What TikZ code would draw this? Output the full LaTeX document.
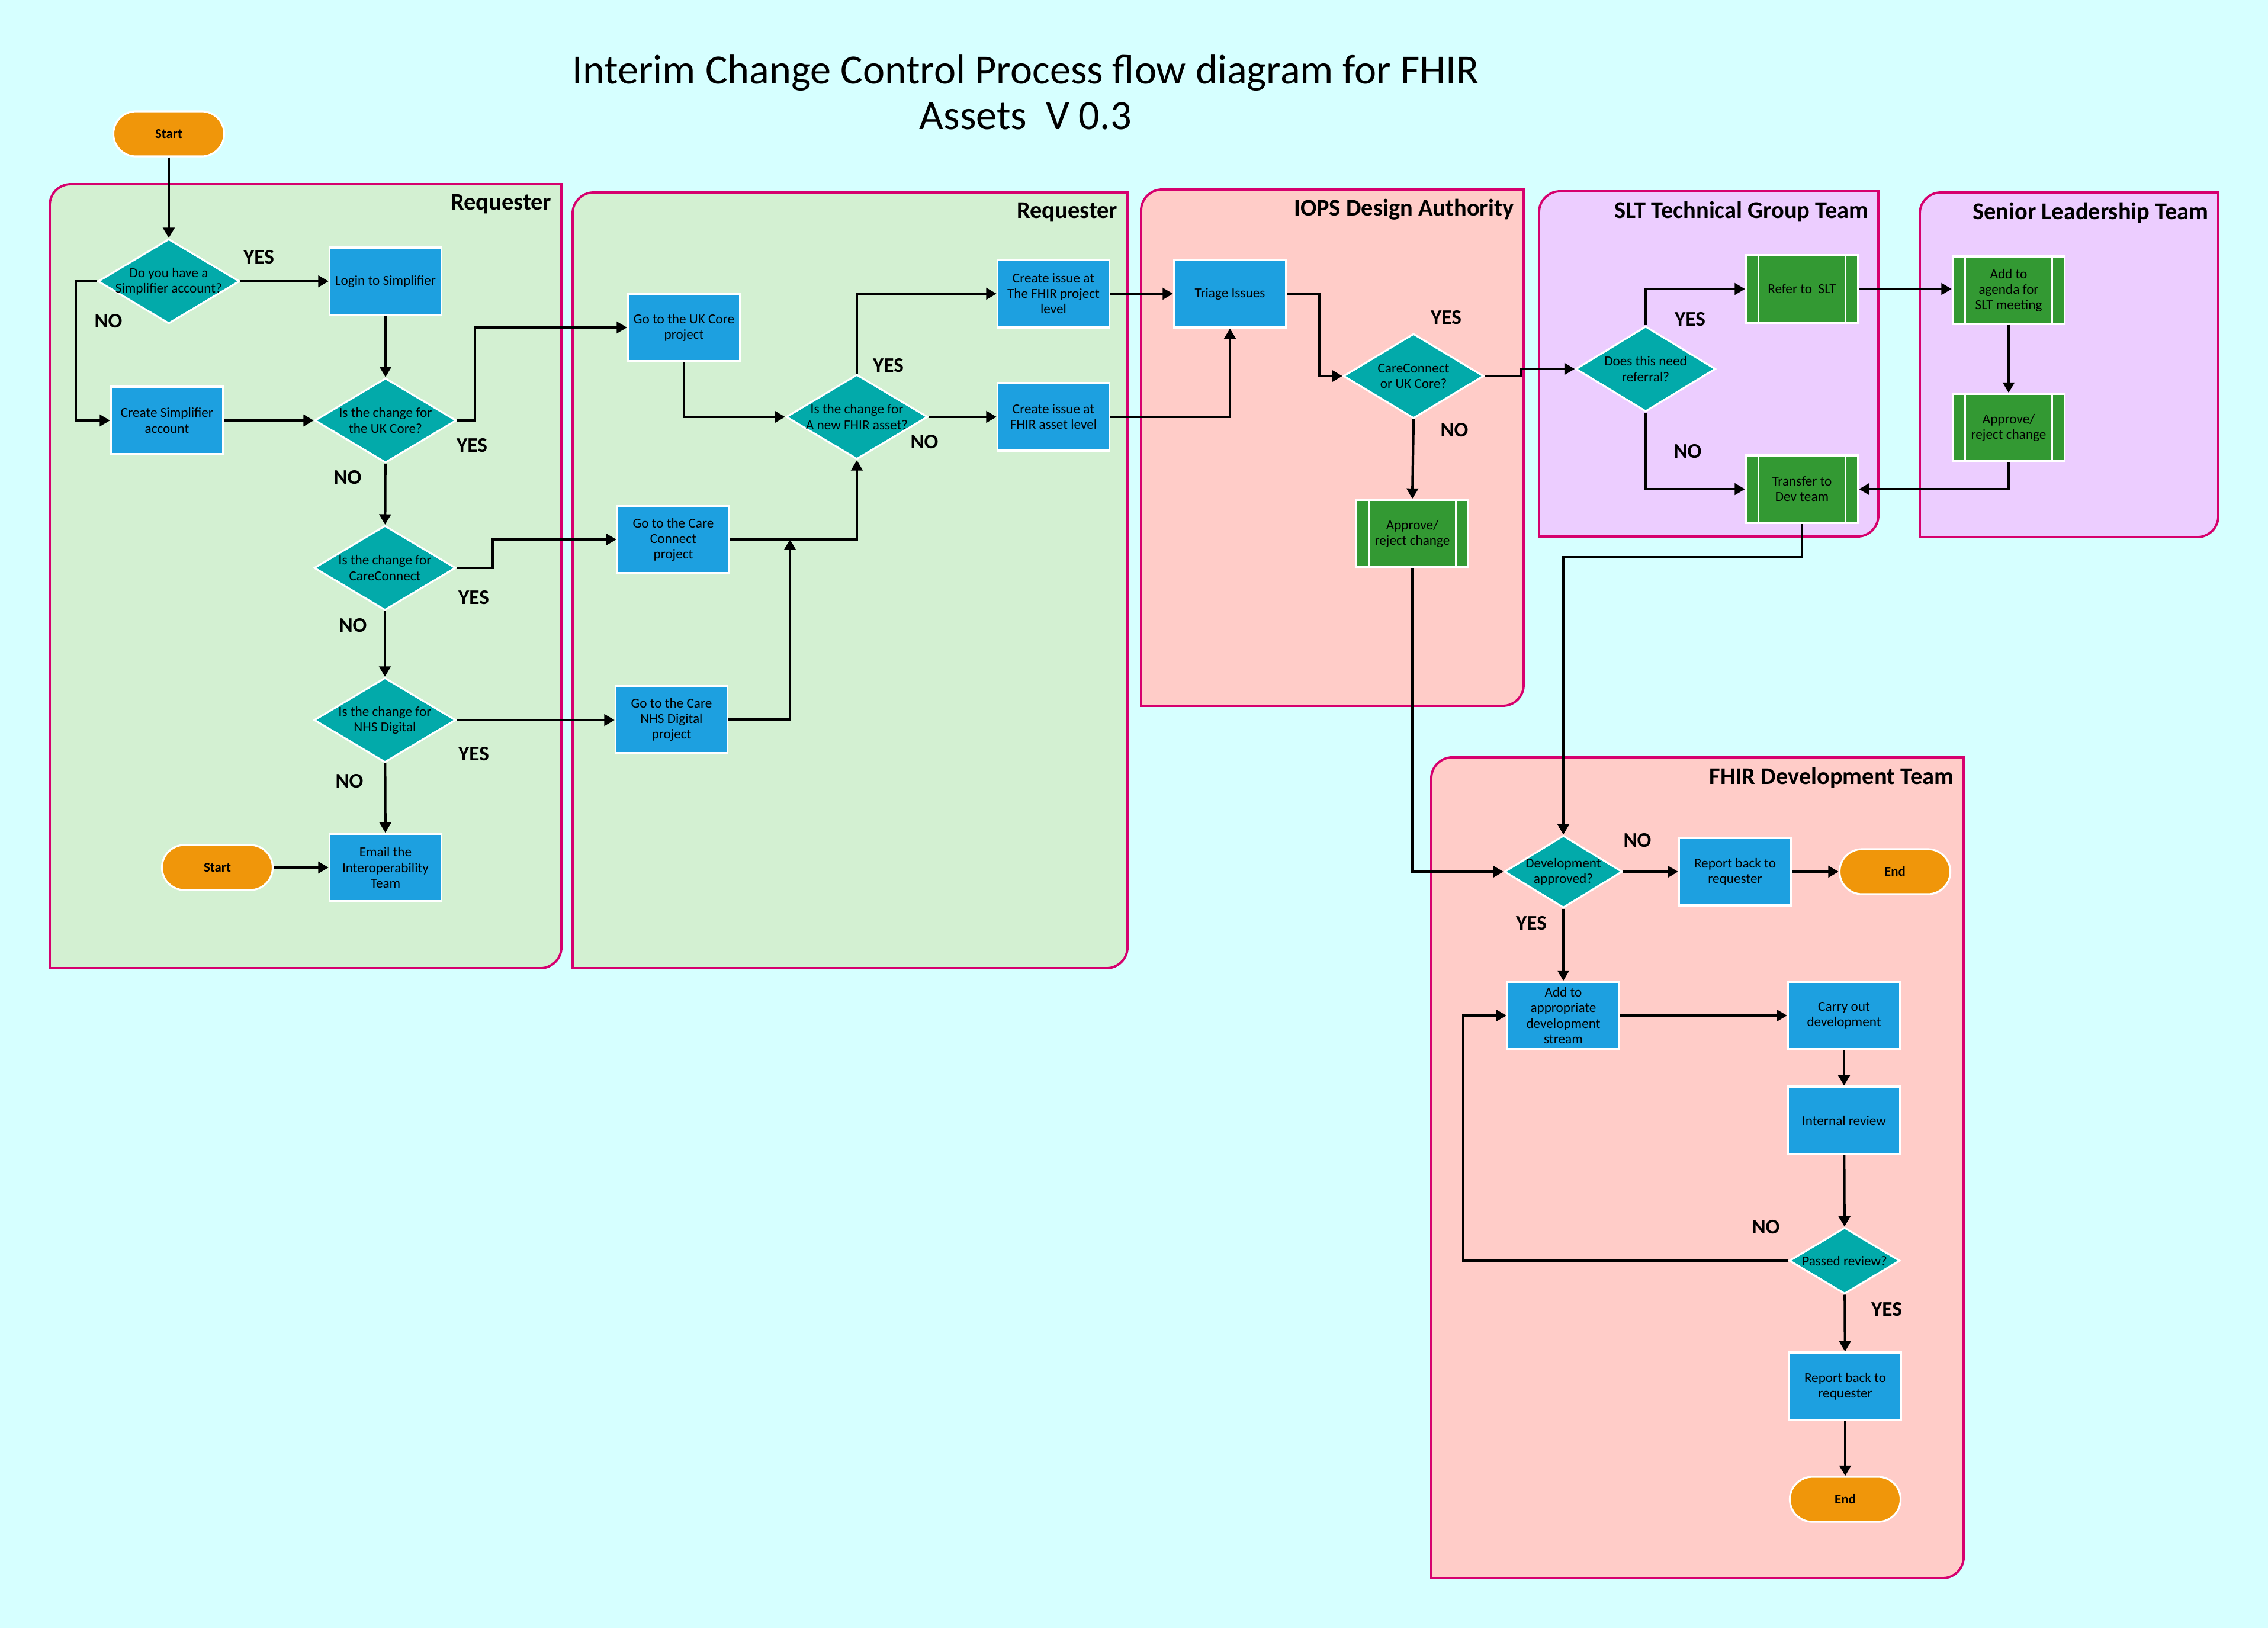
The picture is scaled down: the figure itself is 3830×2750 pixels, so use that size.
\documentclass[tikz,border=0pt]{standalone}
\usepackage{fontspec}
\setmainfont{Carlito}
\usepackage{tikz}
\usetikzlibrary{shapes.geometric, arrows.meta}

\definecolor{bgcyan}{RGB}{214,255,255}
\definecolor{lanegreen}{RGB}{211,240,210}
\definecolor{lanepink}{RGB}{255,204,200}
\definecolor{lanepurple}{RGB}{236,205,255}
\definecolor{laneedge}{RGB}{214,0,110}
\definecolor{procblue}{RGB}{29,160,224}
\definecolor{diateal}{RGB}{2,170,170}
\definecolor{subgreen}{RGB}{51,153,51}
\definecolor{termorange}{RGB}{240,150,10}

\tikzset{
  boxtext/.style={font=\fontsize{6.6}{7.4}\selectfont, align=center, text=black},
  process/.style={rectangle, boxtext, fill=procblue, draw=white, line width=0.9pt, minimum width=1.89cm, minimum height=1.14cm, inner sep=1pt},
  subproc/.style={process, fill=subgreen, path picture={
      \draw[white, line width=0.9pt] ([xshift=0.21cm]path picture bounding box.north west) -- ([xshift=0.21cm]path picture bounding box.south west)
        ([xshift=-0.21cm]path picture bounding box.north east) -- ([xshift=-0.21cm]path picture bounding box.south east);}},
  decision/.style={diamond, fill=diateal, draw=white, line width=0.9pt, minimum width=2.39cm, minimum height=1.43cm, inner sep=0pt, label={[boxtext]center:#1}},
  terminal/.style={rectangle, rounded corners=0.38cm, fill=termorange, draw=white, line width=0.9pt, minimum width=1.87cm, minimum height=0.76cm, font=\fontsize{6.5}{7.5}\selectfont\bfseries},
  flow/.style={draw, line width=1.2pt, -{Triangle[length=5pt,width=5.5pt]}},
  yn/.style={font=\fontsize{10}{12}\selectfont\bfseries},
  lane/.style={draw=laneedge, line width=1.1pt},
  lanetitle/.style={anchor=east, inner sep=0pt, font=\fontsize{11.5}{13}\selectfont\bfseries}
}

\begin{document}
\begin{tikzpicture}[x=0.01cm, y=-0.01cm]
  \fill[bgcyan] (0,0) rectangle (3830,2750);
  \useasboundingbox (0,0) rectangle (3830,2750);

  \node[font=\fontsize{20}{22}\selectfont, align=center] (title) at (1732,156) {Interim Change Control Process flow diagram for FHIR\\Assets\ \ V 0.3};

  % swimlanes
  \foreach \xa/\ya/\xb/\yb/\lc/\lt [count=\n] in {84/311/948/1635/lanegreen/Requester,
      967/325/1904/1635/lanegreen/Requester,
      1927/320/2573/1192/lanepink/IOPS Design Authority,
      2599/323/3172/906/lanepurple/SLT Technical Group Team,
      3242/325/3746/907/lanepurple/Senior Leadership Team,
      2417/1279/3316/2665/lanepink/FHIR Development Team}{
    \draw[lane, fill=\lc] (\xa,\yb) -- (\xa,\ya+35) .. controls (\xa,\ya+16) and (\xa+16,\ya) .. (\xa+35,\ya)
      -- (\xb,\ya) -- (\xb,\yb-35) .. controls (\xb,\yb-16) and (\xb-16,\yb) .. (\xb-35,\yb) -- cycle;
    \node[lanetitle] (lane\n) at (\xb-16,\ya+34) {\lt};
  }

  % requester
  \node[terminal] (start1) at (285,226) {Start};
  \node[decision={Do you have a\\Simplifier account?}] (simpq) at (285,475) {};
  \node[process] (login) at (651,475) {Login to Simplifier};
  \node[process] (createacc) at (282,710) {Create Simplifier\\account};
  \node[decision={Is the change for\\the UK Core?}] (ukq) at (651,710) {};
  \node[decision={Is the change for\\CareConnect}] (ccq) at (650,959) {};
  \node[decision={Is the change for\\NHS Digital}] (nhsq) at (650,1216) {};
  \node[process] (email) at (651,1465) {Email the\\Interoperability\\Team};
  \node[terminal] (start2) at (367,1465) {Start};

  \node[process] (ukgo) at (1155,553) {Go to the UK Core\\project};
  \node[process] (ccgo) at (1137,911) {Go to the Care\\Connect\\project};
  \node[process] (nhsgo) at (1134,1215) {Go to the Care\\NHS Digital\\project};
  \node[decision={Is the change for\\A new FHIR asset?}] (newq) at (1447,704) {};
  \node[process] (issproj) at (1779,496) {Create issue at\\The FHIR project\\level};
  \node[process] (issasset) at (1779,704) {Create issue at\\FHIR asset level};
  \coordinate (join) at (1334,911);

  % IOPS and SLT
  \node[process] (triage) at (2077,496) {Triage Issues};
  \node[decision={CareConnect\\or UK Core?}, minimum width=2.37cm] (coreq) at (2387,635) {};
  \node[subproc] (iopsok) at (2385,901) {Approve/\\reject change};
  \node[decision={Does this need\\referral?}, minimum width=2.36cm, minimum height=1.44cm] (referq) at (2779,623) {};
  \node[subproc] (refer) at (3043,488) {Refer to\ \ SLT};
  \node[subproc] (transfer) at (3043,826) {Transfer to\\Dev team};
  \node[subproc] (agenda) at (3392,490) {Add to\\agenda for\\SLT meeting};
  \node[subproc] (sltok) at (3392,722) {Approve/\\reject change};

  % development team
  \node[decision={Development\\approved?}, minimum width=1.99cm, minimum height=1.22cm] (devq) at (2640,1472) {};
  \node[process] (report1) at (2930,1472) {Report back to\\requester};
  \node[terminal] (end1) at (3200,1472) {End};
  \node[process] (addstream) at (2640,1715) {Add to\\appropriate\\development\\stream};
  \node[process] (carry) at (3114,1715) {Carry out\\development};
  \node[process] (review) at (3114,1892) {Internal review};
  \node[decision={Passed review?}, minimum width=1.87cm, minimum height=1.12cm] (passq) at (3115,2129) {};
  \node[process] (report2) at (3116,2341) {Report back to\\requester};
  \node[terminal] (end2) at (3116,2532) {End};

  % connectors
  \draw[flow] (start1) -- (simpq);
  \draw[flow] (simpq) -- (login);
  \draw[flow] (simpq.west) -- ++(-36,0) |- (createacc.west);
  \draw[flow] (login) -- (ukq);
  \draw[flow] (createacc) -- (ukq);
  \draw[flow] (ukq.east) -- ++(30,0) |- (ukgo.west);
  \draw[flow] (ukq) -- (ccq);
  \draw[flow] (ccq.east) -- ++(61,0) |- (ccgo.west);
  \draw[flow] (ccq) -- (nhsq);
  \draw[flow] (nhsq.east) -- (nhsq.east -| nhsgo.west);
  \draw[flow] (nhsq) -- (email);
  \draw[flow] (start2) -- (email);
  \draw[flow] (ukgo.south) |- (newq.west);
  \draw[flow] (ccgo.east) -| (newq.south);
  \draw[flow] (nhsgo.east) -| (join);
  \draw[flow] (newq.north) |- (issproj.west);
  \draw[flow] (newq.east) -- (issasset.west);
  \draw[flow] (issproj.east) -- (triage.west);
  \draw[flow] (issasset.east) -| (triage.south);
  \draw[flow] (triage.east) -- ++(55,0) |- (coreq.west);
  \draw[flow] (coreq.south) -- (iopsok.north);
  \draw[flow] (coreq.east) -- ++(61,0) |- (referq.west);
  \draw[flow] (referq.north) |- (refer.west);
  \draw[flow] (referq.south) |- (transfer.west);
  \draw[flow] (refer.east) -- (refer.east -| agenda.west);
  \draw[flow] (agenda) -- (sltok);
  \draw[flow] (sltok.south) |- (transfer.east);
  \draw[flow] (transfer.south) -- ++(0,56) -| (devq.north);
  \draw[flow] (iopsok.south) |- (devq.west);
  \draw[flow] (devq) -- (report1);
  \draw[flow] (report1) -- (end1);
  \draw[flow] (devq) -- (addstream);
  \draw[flow] (addstream) -- (carry);
  \draw[flow] (carry) -- (review);
  \draw[flow] (review) -- (passq);
  \draw[flow] (passq.west) -- ++(-549,0) |- (addstream.west);
  \draw[flow] (passq) -- (report2);
  \draw[flow] (report2) -- (end2);

  % yes / no
  \node[yn] (yes1) at (437,434) {YES};
  \node[yn] (no1) at (183,542) {NO};
  \node[yn] (yes2) at (797,752) {YES};
  \node[yn] (no2) at (587,806) {NO};
  \node[yn] (yes3) at (800,1009) {YES};
  \node[yn] (no3) at (596,1056) {NO};
  \node[yn] (yes4) at (800,1273) {YES};
  \node[yn] (no4) at (590,1319) {NO};
  \node[yn] (yes5) at (1500,617) {YES};
  \node[yn] (no5) at (1561,746) {NO};
  \node[yn] (yes6) at (2442,536) {YES};
  \node[yn] (no6) at (2456,726) {NO};
  \node[yn] (yes7) at (2854,539) {YES};
  \node[yn] (no7) at (2850,762) {NO};
  \node[yn] (no8) at (2765,1419) {NO};
  \node[yn] (yes8) at (2586,1559) {YES};
  \node[yn] (no9) at (2982,2072) {NO};
  \node[yn] (yes9) at (3186,2211) {YES};
\end{tikzpicture}
\end{document}
